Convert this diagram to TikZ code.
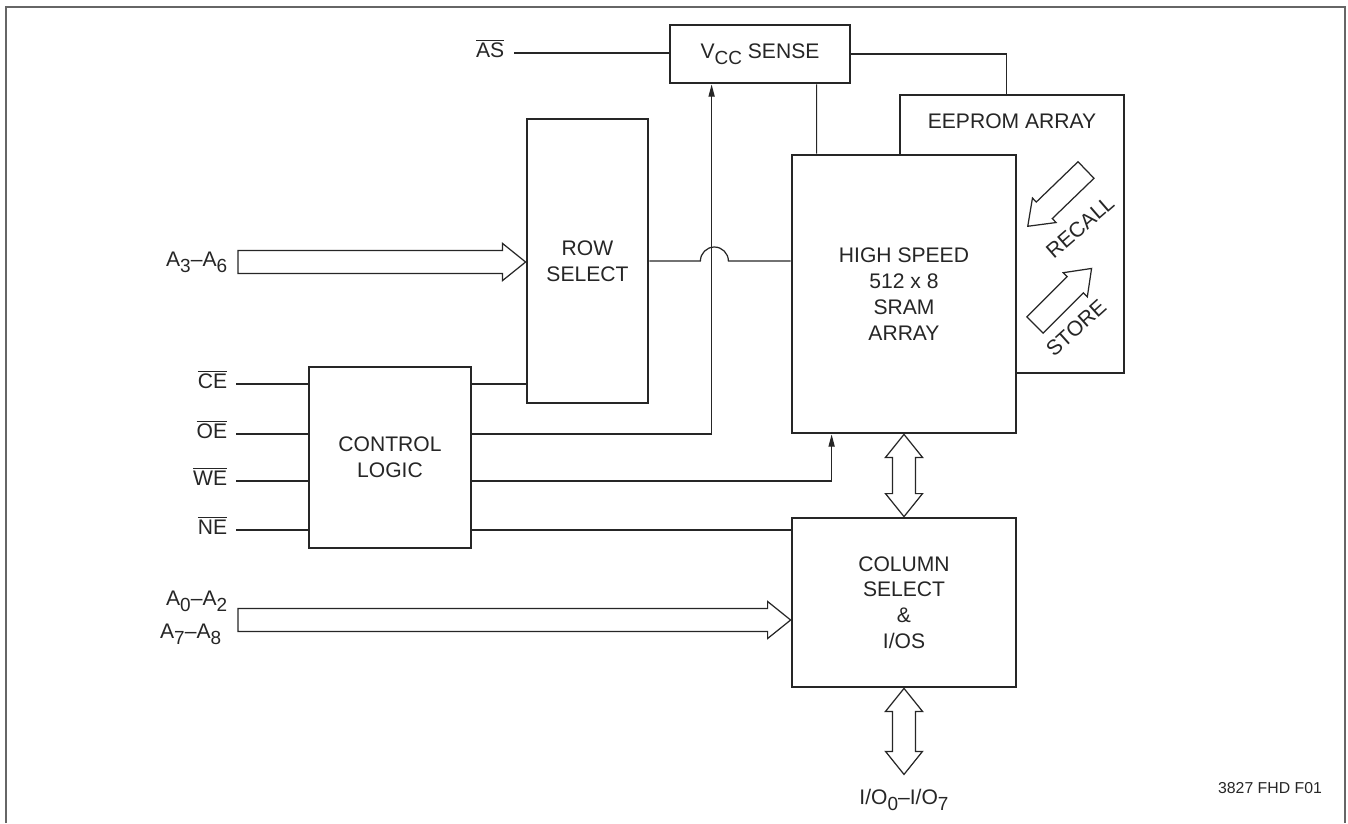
\documentclass[tikz,border=0pt]{standalone}
\usepackage{fontspec}
\setmainfont{Liberation Sans}
\usetikzlibrary{calc,positioning,arrows.meta}

\newcommand{\ovl}[1]{$\overline{\mbox{#1}}$}
\newcommand{\sub}[1]{\raisebox{-3.2pt}{\fontsize{10.8}{11}\selectfont #1}}
% hollow bus arrows
\newcommand{\hbus}[2]{%
	\draw[bus] ($(#1)+(0,-11.5)$) -- ($(#2)+(-23,-11.5)$) -- ($(#2)+(-23,-18.5)$)
	-- (#2) -- ($(#2)+(-23,18.5)$) -- ($(#2)+(-23,11.5)$) -- ($(#1)+(0,11.5)$) -- cycle;}
\newcommand{\vbus}[2]{%
	\draw[bus] (#1) -- ($(#1)+(18.5,23)$) -- ($(#1)+(11.5,23)$) -- ($(#2)+(11.5,-23)$)
	-- ($(#2)+(18.5,-23)$) -- (#2) -- ($(#2)+(-18.5,-23)$) -- ($(#2)+(-11.5,-23)$)
	-- ($(#1)+(-11.5,23)$) -- ($(#1)+(-18.5,23)$) -- cycle;}
\newcommand{\rbus}[3]{%
	\draw[bus, shift={(#1)}, rotate=#2] (0,-11.5) -- (#3-23,-11.5) -- (#3-23,-17)
	-- (#3,0) -- (#3-23,17) -- (#3-23,11.5) -- (0,11.5) -- cycle;}

\begin{document}
\begin{tikzpicture}[x=0.02cm,y=-0.02cm,
	blk/.style={draw=black!85, line width=1.6pt, fill=white, align=center,
		inner sep=0pt, text=black!85, font=\fontsize{12}{14.7}\selectfont},
	sig/.style={text=black!85, inner sep=2pt, font=\fontsize{12}{14}\selectfont},
	wire/.style={draw=black!85, line width=0.7pt},
	bus/.style={draw=black!85, line width=0.7pt, fill=white, line join=miter},
	frame/.style={draw=black!60, line width=1.1pt}]
	\useasboundingbox (0,0) rectangle (1348,823);
	\draw[frame] (6,823) -- (6,7) -- (1345,7) -- (1345,823);
	
	% blocks
	\node[blk, minimum width=3.6cm, minimum height=1.16cm] (vcc) at (760,54) {V\sub{CC} SENSE};
	\node[blk, minimum width=4.48cm, minimum height=5.56cm] (eeprom) at (1012,234) {};
	\node[sig] (eepromlbl) at (1012,121) {EEPROM ARRAY};
	\node[blk, minimum width=4.48cm, minimum height=5.56cm] (sram) at (904,294)
	{HIGH SPEED\\512 x 8\\SRAM\\ARRAY};
	\node[blk, minimum width=2.42cm, minimum height=5.68cm] (rowsel) at (587.5,261) {ROW\\SELECT};
	\node[blk, minimum width=3.24cm, minimum height=3.62cm] (ctrl) at (390,457.5) {CONTROL\\LOGIC};
	\node[blk, minimum width=4.48cm, minimum height=3.38cm] (col) at (904,602.5)
	{COLUMN\\SELECT\\\&\\I/OS};
	
	% store / recall
	\coordinate (recalltail) at (1086,170);
	\coordinate (storetail) at (1035,325);
	\rbus{recalltail}{224}{81}
	\rbus{storetail}{45}{80}
	\node[sig, rotate=41] (recall) at (1080,227) {RECALL};
	\node[sig, rotate=42] (store) at (1076,328) {STORE};
	
	% control inputs
	\foreach \sig/\nm/\yy in {CE/ce/384, OE/oe/434, WE/we/481, NE/ne/530}{%
		\node[sig, anchor=mid east] (\nm) at (231,\yy) {\ovl{\sig}};
		\draw[wire] ($(\nm.mid east)+(5,0)$) -- (\nm.mid east -| ctrl.west);
	}
	\draw[wire] (ce.mid east -| ctrl.east) -- (ce.mid east -| rowsel.west);
	\draw[wire, -{Triangle[length=7pt,width=3.5pt]}] (oe.mid east -| ctrl.east)
	-| ($(vcc.south west)+(43,0)$);
	\draw[wire, -{Triangle[length=7pt,width=3.5pt]}] (we.mid east -| ctrl.east)
	-| ($(sram.south west)+(41,0)$);
	\draw[wire] (ne.mid east -| ctrl.east) -- (ne.mid east -| col.west);
	
	% row select to sram, hopping over
	\draw[wire] (rowsel.east) -- ($(rowsel.east)+(51,0)$)
	arc[start angle=180, end angle=0, radius=0.28cm] -- (rowsel.east -| sram.west);
	
	% vcc sense
	\node[sig, anchor=mid east] (as) at (508,53) {\ovl{AS}};
	\draw[wire] ($(as.mid east)+(6,0)$) -- (as.mid east -| vcc.west);
	\draw[wire] (vcc.east) -| ($(eeprom.north west)+(108,0)$);
	\draw[wire] ($(vcc.south west)+(148,0)$) -- ($(sram.north west)+(26,0)$);
	
	% address buses
	\node[sig, anchor=mid east] (a36) at (231,262) {A\sub{3}--A\sub{6}};
	\coordinate (a36tail) at (238,262);
	\coordinate (a36tip) at (rowsel.west |- a36tail);
	\hbus{a36tail}{a36tip}
	\node[sig, anchor=mid east] (a02) at (231,601) {A\sub{0}--A\sub{2}};
	\node[sig, anchor=mid east] (a78) at (225,634) {A\sub{7}--A\sub{8}};
	\coordinate (a02tail) at (238,620);
	\coordinate (a02tip) at (col.west |- a02tail);
	\hbus{a02tail}{a02tip}
	
	% data buses
	\vbus{sram.south}{col.north}
	\coordinate (iotip) at ($(col.south)+(0,86)$);
	\vbus{col.south}{iotip}
	\node[sig] (io) at (904,800) {I/O\sub{0}--I/O\sub{7}};
	
	\node[sig, font=\fontsize{9}{10}\selectfont] (figid) at (1270,788) {3827 FHD F01};
\end{tikzpicture}
\end{document}
